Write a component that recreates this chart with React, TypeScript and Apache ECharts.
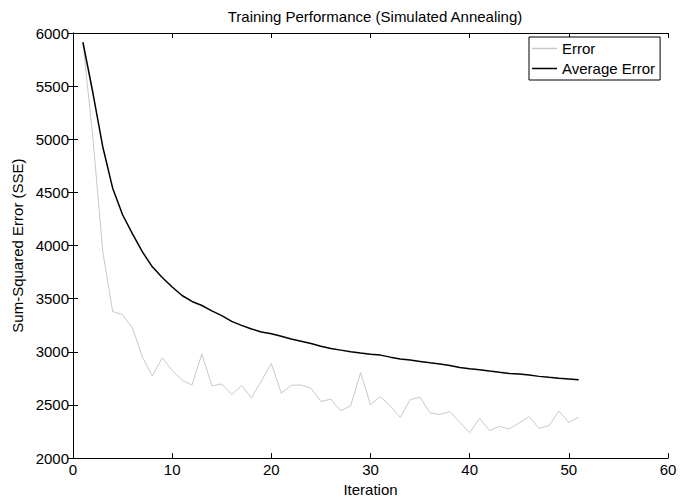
import React, { useEffect, useRef } from "react";
import * as echarts from "echarts";

const iterations = [
  1, 2, 3, 4, 5, 6, 7, 8, 9, 10, 11, 12, 13, 14, 15, 16, 17, 18, 19, 20, 21, 22, 23, 24, 25, 26,
  27, 28, 29, 30, 31, 32, 33, 34, 35, 36, 37, 38, 39, 40, 41, 42, 43, 44, 45, 46, 47, 48, 49, 50, 51,
];

const errorValues = [
  5913, 5020, 3945, 3380, 3349, 3224, 2950, 2773, 2944, 2825, 2732, 2688, 2981, 2679, 2698, 2598,
  2682, 2567, 2726, 2891, 2610, 2685, 2688, 2657, 2533, 2554, 2445, 2492, 2804, 2502, 2579, 2492,
  2383, 2551, 2573, 2424, 2411, 2439, 2336, 2240, 2374, 2259, 2299, 2274, 2333, 2390, 2280, 2305,
  2442, 2336, 2386,
];

const averageErrorValues = [
  5913, 5440, 4930, 4540, 4290, 4110, 3940, 3800, 3700, 3610, 3530, 3474, 3436, 3386, 3340, 3287,
  3249, 3215, 3187, 3171, 3146, 3121, 3100, 3078, 3053, 3031, 3016, 3000, 2988, 2978, 2969, 2950,
  2932, 2922, 2910, 2897, 2885, 2872, 2853, 2841, 2832, 2819, 2807, 2797, 2791, 2782, 2769, 2760,
  2752, 2745, 2738,
];

const seriesNames = ["Error", "Average Error"];
const xTicks = { min: 0, max: 60, interval: 10 };
const yTicks = { min: 2000, max: 6000, interval: 500 };

const FONT = "'Liberation Sans', Arial, Helvetica, sans-serif";

export default function App() {
  const ref = useRef<HTMLDivElement>(null);

  useEffect(() => {
    if (!ref.current) return;
    const chart = echarts.init(ref.current, null, { renderer: "svg" });
    const axisLine = { show: true, lineStyle: { color: "#000", width: 1 } };
    const axisTick = { show: true, inside: true, length: 5, lineStyle: { color: "#000", width: 1 } };
    const errData = iterations.map((x, i) => [x, errorValues[i]]);
    const avgData = iterations.map((x, i) => [x, averageErrorValues[i]]);

    chart.setOption({
      animation: false,
      backgroundColor: "#fff",
      textStyle: { fontFamily: FONT },
      title: {
        text: "Training Performance (Simulated Annealing)",
        left: 370,
        textAlign: "center",
        top: 4,
        textStyle: { fontFamily: FONT, fontSize: 15, fontWeight: "normal", color: "#000" },
      },
      grid: { left: 73, right: 23, top: 33, bottom: 41, containLabel: false },
      legend: {
        orient: "vertical",
        left: 529,
        top: 37,
        width: 135,
        padding: [4, 5, 4, 3],
        itemGap: 5,
        itemWidth: 25,
        itemHeight: 1.5,
        borderColor: "#000",
        borderWidth: 1,
        backgroundColor: "#fff",
        data: [
          { name: seriesNames[0], icon: "rect", itemStyle: { color: "#c8c8c8" } },
          { name: seriesNames[1], icon: "rect", itemStyle: { color: "#000" } },
        ],
        textStyle: { fontFamily: FONT, fontSize: 15, color: "#000", padding: [0, 3, 0, 0] },
      },
      xAxis: [
        {
          type: "value",
          min: xTicks.min,
          max: xTicks.max,
          interval: xTicks.interval,
          name: "Iteration",
          nameLocation: "middle",
          nameGap: 21,
          nameTextStyle: { fontFamily: FONT, fontSize: 15, color: "#000" },
          axisLine,
          axisTick,
          axisLabel: { fontFamily: FONT, fontSize: 15, color: "#000", margin: 4 },
          splitLine: { show: false },
        },
        {
          type: "value",
          position: "top",
          min: xTicks.min,
          max: xTicks.max,
          interval: xTicks.interval,
          axisLine,
          axisTick,
          axisLabel: { show: false },
          splitLine: { show: false },
        },
      ],
      yAxis: [
        {
          type: "value",
          min: yTicks.min,
          max: yTicks.max,
          interval: yTicks.interval,
          name: "Sum-Squared Error (SSE)",
          nameLocation: "middle",
          nameGap: 42,
          nameTextStyle: { fontFamily: FONT, fontSize: 15, color: "#000" },
          axisLine,
          axisTick,
          axisLabel: {
            fontFamily: FONT,
            fontSize: 15,
            color: "#000",
            margin: 4,
            formatter: (v: number) => String(v),
          },
          splitLine: { show: false },
        },
        {
          type: "value",
          position: "right",
          min: yTicks.min,
          max: yTicks.max,
          interval: yTicks.interval,
          axisLine,
          axisTick,
          axisLabel: { show: false },
          splitLine: { show: false },
        },
      ],
      series: [
        {
          name: seriesNames[0],
          type: "line",
          data: errData,
          symbol: "none",
          lineStyle: { color: "#c8c8c8", width: 1 },
          itemStyle: { color: "#c8c8c8" },
        },
        {
          name: seriesNames[1],
          type: "line",
          data: avgData,
          symbol: "none",
          lineStyle: { color: "#000", width: 1.5 },
          itemStyle: { color: "#000" },
        },
      ],
    });

    return () => chart.dispose();
  }, []);

  return <div ref={ref} style={{ width: 691, height: 502, position: "absolute", left: 0, top: 0 }} />;
}
